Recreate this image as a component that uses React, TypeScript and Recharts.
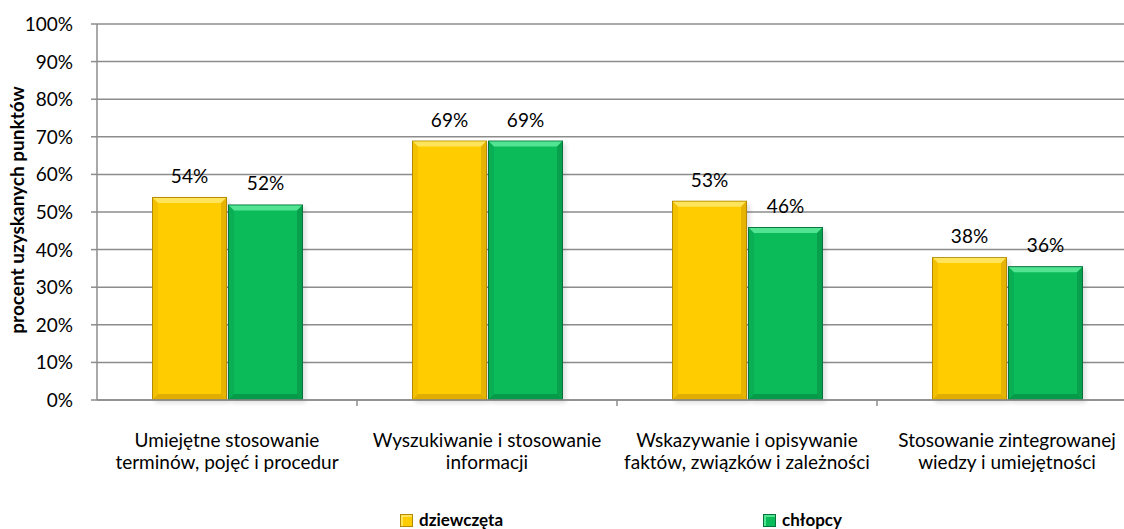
import React from 'react';
import { BarChart, Bar, XAxis, YAxis, CartesianGrid, LabelList, Label } from 'recharts';

const categories = [
  'Umiejętne stosowanie\nterminów, pojęć i procedur',
  'Wyszukiwanie i stosowanie\ninformacji',
  'Wskazywanie i opisywanie\nfaktów, związków i zależności',
  'Stosowanie zintegrowanej\nwiedzy i umiejętności',
];
const girls = [54, 69, 53, 38];
const boys = [52, 69, 46, 35.6];
const yTicks = [0, 10, 20, 30, 40, 50, 60, 70, 80, 90, 100];

const data = categories.map((name, i) => ({ name, girls: girls[i], boys: boys[i] }));

const FONT = 'Lato, "Open Sans", sans-serif';
const GRID = '#8c8c8c';
const BAND = 260;

const BevelBar = (colors: { base: string; light: string; dark: string; edge: string }) => (props: any) => {
  const { x, y, width, height } = props;
  if (!height || height <= 0) return null;
  const b = 5;
  return (
    <g>
      <rect x={x + 3} y={y + 3} width={width} height={height} fill="#000" opacity={0.12} filter="url(#blur)" />
      <rect x={x} y={y} width={width} height={height} fill={colors.edge} />
      <rect x={x + 1} y={y + 1} width={width - 2} height={height - 2} fill={colors.base} />
      <polygon points={`${x + 1},${y + 1} ${x + width - 1},${y + 1} ${x + width - 1 - b},${y + 1 + b} ${x + 1 + b},${y + 1 + b}`} fill={colors.light} />
      <polygon points={`${x + width - 1},${y + 1} ${x + width - 1},${y + height - 1} ${x + width - 1 - b},${y + height - 1 - b} ${x + width - 1 - b},${y + 1 + b}`} fill={colors.dark} opacity={0.45} />
      <polygon points={`${x + 1},${y + height - 1} ${x + width - 1},${y + height - 1} ${x + width - 1 - b},${y + height - 1 - b} ${x + 1 + b},${y + height - 1 - b}`} fill={colors.dark} opacity={0.55} />
      <polygon points={`${x + 1},${y + 1} ${x + 1 + b},${y + 1 + b} ${x + 1 + b},${y + height - 1 - b} ${x + 1},${y + height - 1}`} fill={colors.dark} opacity={0.2} />
    </g>
  );
};

const yellow = { base: '#FFCC00', light: '#FFE45C', dark: '#C89600', edge: '#B38A00' };
const green = { base: '#0BBB5A', light: '#52E493', dark: '#05813C', edge: '#06733A' };

const ValueLabel = (props: any) => {
  const { x, y, width, value } = props;
  return (
    <text x={x + width / 2} y={y - 14} textAnchor="middle" fontSize={19} fontFamily={FONT} fill="#000">
      {Math.round(value)}%
    </text>
  );
};

const XTick = (props: any) => {
  const { x, y, payload } = props;
  const lines = String(payload.value).split('\n');
  return (
    <g>
      <line x1={x + BAND / 2} y1={y - 8} x2={x + BAND / 2} y2={y - 2} stroke={GRID} strokeWidth={1.5} />
      {lines.map((l, i) => (
        <text key={i} x={x} y={y + 39 + i * 22} textAnchor="middle" fontSize={19} fontFamily={FONT} fill="#000">
          {l}
        </text>
      ))}
    </g>
  );
};

const YTick = (props: any) => {
  const { y, payload } = props;
  return (
    <text x={73} y={y + 7} textAnchor="end" fontSize={19} fontFamily={FONT} fill="#000">
      {payload.value}%
    </text>
  );
};

export default function App() {
  return (
    <div style={{ position: 'absolute', left: 0, top: 0, width: 1124, height: 529, background: '#fff', overflow: 'hidden' }}>
      <BarChart
        width={1137}
        height={529}
        data={data}
        margin={{ top: 24, right: 0, left: 0, bottom: 0 }}
        barSize={75}
        barGap={1}
      >
        <defs>
          <filter id="blur" x="-20%" y="-20%" width="140%" height="140%">
            <feGaussianBlur stdDeviation="2" />
          </filter>
        </defs>
        <CartesianGrid vertical={false} stroke={GRID} strokeWidth={1.5} />
        <XAxis
          dataKey="name"
          height={129}
          tick={<XTick />}
          tickLine={false}
          axisLine={{ stroke: GRID, strokeWidth: 1.5 }}
          interval={0}
        />
        <YAxis
          domain={[0, 100]}
          ticks={yTicks}
          width={97}
          tick={<YTick />}
          tickSize={6}
          tickLine={{ stroke: GRID, strokeWidth: 1.5 }}
          axisLine={{ stroke: GRID, strokeWidth: 1.5 }}
          interval={0}
        >
          <Label
            content={() => (
              <text
                transform="translate(24,210) rotate(-90)"
                textAnchor="middle"
                fontSize={19}
                fontWeight="bold"
                fontFamily={FONT}
                fill="#000"
              >
                procent uzyskanych punktów
              </text>
            )}
          />
        </YAxis>
        <Bar dataKey="girls" shape={BevelBar(yellow)} isAnimationActive={false}>
          <LabelList dataKey="girls" content={<ValueLabel />} />
        </Bar>
        <Bar dataKey="boys" shape={BevelBar(green)} isAnimationActive={false}>
          <LabelList dataKey="boys" content={<ValueLabel />} />
        </Bar>
      </BarChart>
      {[
        { label: 'dziewczęta', c: yellow, left: 400 },
        { label: 'chłopcy', c: green, left: 763 },
      ].map((it) => (
        <div
          key={it.label}
          style={{
            position: 'absolute',
            left: it.left,
            top: 510,
            display: 'flex',
            alignItems: 'center',
            fontFamily: FONT,
            fontWeight: 'bold',
            fontSize: 17,
            lineHeight: '20px',
          }}
        >
          <span
            style={{
              display: 'inline-block',
              width: 11,
              height: 11,
              background: it.c.base,
              border: `1px solid ${it.c.edge}`,
              boxShadow: `inset 2px 2px 0 ${it.c.light}`,
              marginRight: 6,
            }}
          />
          {it.label}
        </div>
      ))}
    </div>
  );
}
